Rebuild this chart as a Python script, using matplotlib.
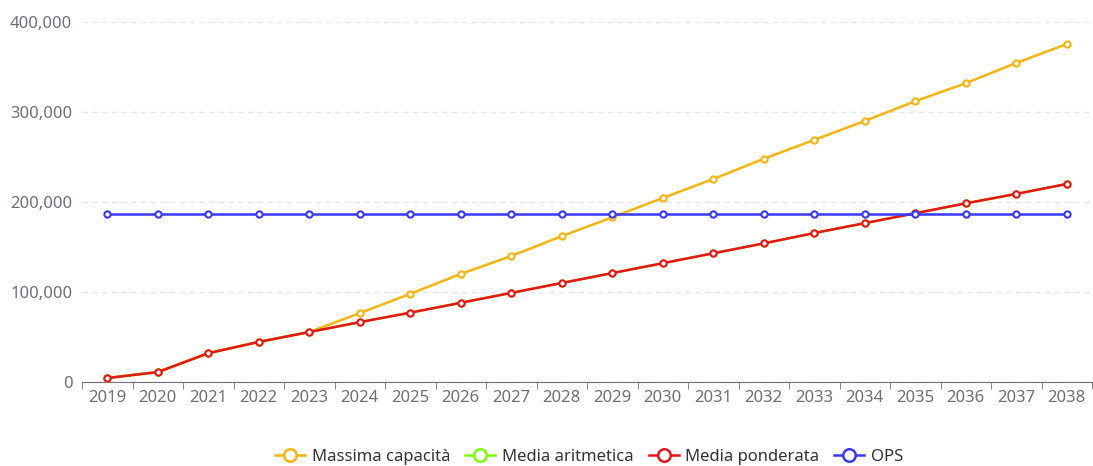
import matplotlib.pyplot as plt
from matplotlib.ticker import FuncFormatter, FixedLocator

years = [str(y) for y in range(2019, 2039)]
massima = [4400, 11000, 32000, 44500, 55500, 76500, 98000, 120000, 140000, 162000,
           183000, 204500, 225500, 248000, 269000, 290000, 312000, 332000, 354500, 375500]
ponderata = [4400, 11000, 32000, 44500, 55500, 66500, 77000, 88000, 99000, 110000,
             121000, 132000, 143000, 154000, 165500, 176500, 187500, 198500, 209000, 220000]
aritmetica = list(ponderata)
ops = [186500] * 20

plt.rcParams['font.family'] = ['Noto Sans', 'DejaVu Sans']

fig = plt.figure(figsize=(10.93, 4.66), dpi=100)
ax = fig.add_axes([82 / 1093, 1 - 382 / 466, 1010 / 1093, 360 / 466])

x = range(len(years))
series = [
    ('Massima capacità', massima, '#F5B40F'),
    ('Media aritmetica', aritmetica, '#7CFC00'),
    ('Media ponderata', ponderata, '#E8141C'),
    ('OPS', ops, '#3838FF'),
]
handles = []
for name, vals, col in series:
    ax.plot(x, vals, color=col, lw=1.8, marker='o', ms=4.5, mfc='white', mec=col, mew=1.5,
            zorder=3)
    h, = ax.plot([], [], color=col, lw=1.8, marker='o', ms=9, mfc='white', mec=col, mew=1.8)
    handles.append(h)

ax.set_ylim(0, 400000)
ax.set_xlim(-0.5, len(years) - 0.5)
ax.set_yticks([0, 100000, 200000, 300000, 400000])
ax.yaxis.set_major_formatter(FuncFormatter(lambda v, p: f'{int(v):,}'))
ax.grid(axis='y', color='#E0E6F1', ls=(0, (4, 3)), lw=1)
ax.set_axisbelow(True)

ax.set_xticks(list(x))
ax.set_xticklabels(years)
ax.xaxis.set_minor_locator(FixedLocator([i - 0.5 for i in range(len(years) + 1)]))
ax.tick_params(axis='x', which='major', length=0, pad=6, labelsize=12, labelcolor='#6E7079')
ax.tick_params(axis='x', which='minor', length=5, color='#6E7079')
ax.tick_params(axis='y', length=0, pad=7, labelsize=12, labelcolor='#6E7079')

for s in ['left', 'right', 'top']:
    ax.spines[s].set_visible(False)
ax.spines['bottom'].set_color('#6E7079')

fig.legend(handles, [s[0] for s in series], loc='lower center', bbox_to_anchor=(0.539, -0.03),
           ncol=4, frameon=False, fontsize=12, handlelength=1.8, handletextpad=0.4,
           columnspacing=0.9, labelcolor='#333333')

fig.savefig('out.png', dpi=100)
